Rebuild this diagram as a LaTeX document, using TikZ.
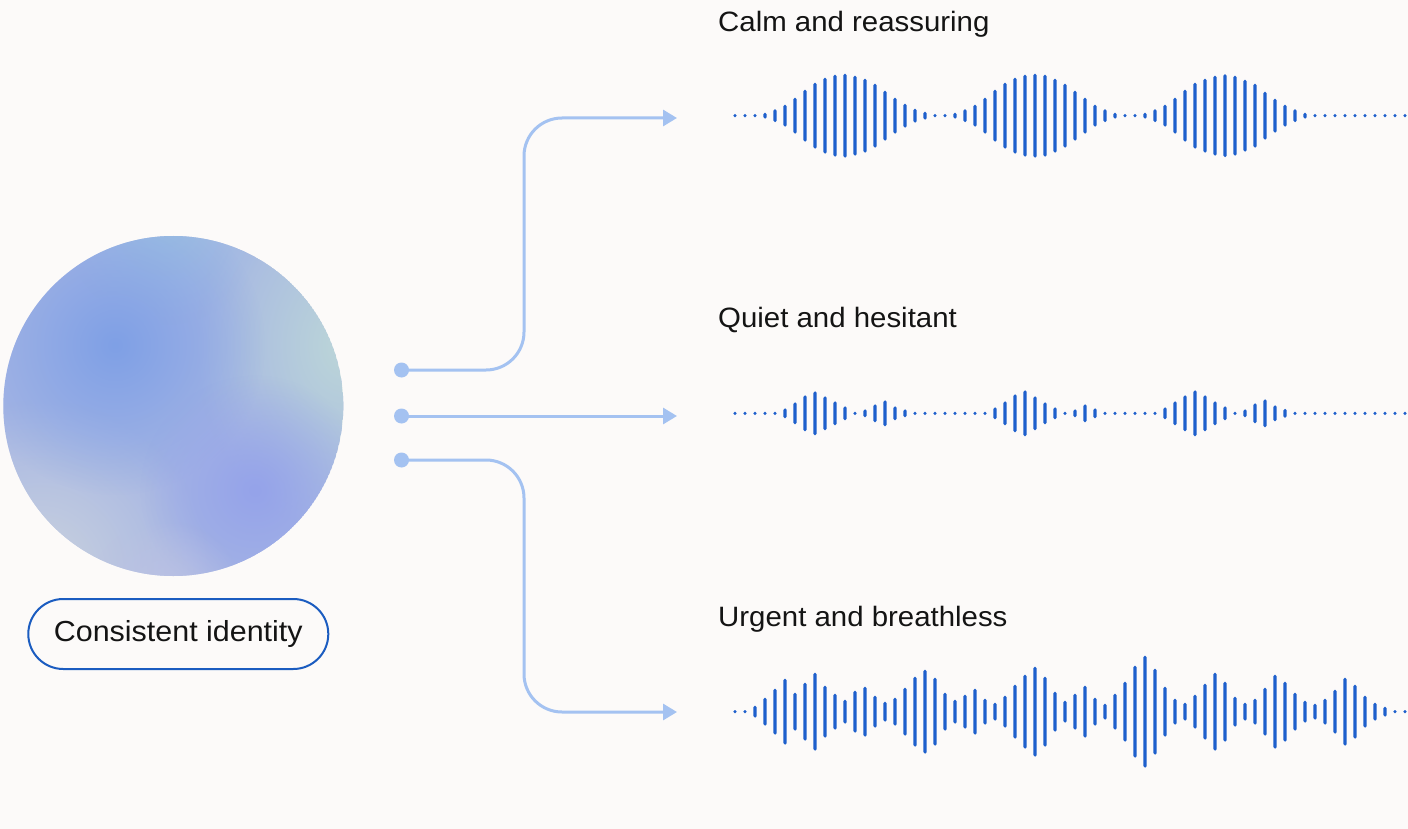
\documentclass[tikz,border=0pt]{standalone}
\usepackage{fontspec}
\setmainfont[FakeStretch=1.05]{Liberation Sans}
\usetikzlibrary{arrows.meta,fadings}
\definecolor{bgc}{HTML}{FCFAF9}
\definecolor{wavec}{HTML}{1E5FCC}
\definecolor{connc}{HTML}{A4C2F1}
\definecolor{pillc}{HTML}{1B5CC0}
\definecolor{txtc}{HTML}{141414}
\definecolor{cbase}{HTML}{A5B5E4}
\definecolor{cA}{HTML}{7FA0E6}
\definecolor{cB}{HTML}{95A3EA}
\definecolor{cC}{HTML}{BCD6D8}
\definecolor{cD}{HTML}{CAD2DE}
\definecolor{cE}{HTML}{9CC0E2}
\definecolor{cF}{HTML}{BDC2E4}
\tikzfading[name=blob, inner color=transparent!0, outer color=transparent!100]
\tikzset{
  wavebar/.style={fill=wavec, rounded corners=1.6pt},
  conn/.style={draw=connc, line width=3pt, rounded corners=38pt, -{Triangle[length=14pt,width=16pt]}},
  conndot/.style={circle, fill=connc, inner sep=0pt, minimum size=15pt},
  title/.style={anchor=base west, inner sep=0pt, text=txtc, font=\fontsize{28}{33}\selectfont},
  pill/.style={draw=pillc, line width=2pt, rounded corners=35pt, minimum width=300pt, minimum height=70pt, inner sep=0pt, text=txtc, font=\fontsize{29}{34}\selectfont}
}
\begin{document}
\begin{tikzpicture}[x=1pt,y=-1pt]
\useasboundingbox (0,0) rectangle (1408,829);
\fill[bgc] (0,0) rectangle (1408,829);
% gradient sphere
\begin{scope}
\clip (173.3,406) circle (170);
\fill[cbase] (173.3,406) circle (170);
\fill[cD, path fading=blob] (40,570) circle (170);
\fill[cC, path fading=blob] (345,345) ellipse (150 and 190);
\fill[cE, path fading=blob] (165,225) circle (100);
\fill[cA, path fading=blob] (115,345) circle (150);
\fill[cB, path fading=blob] (255,490) circle (115);
\fill[cF, path fading=blob] (165,600) circle (80);
\end{scope}
\node (sphere) at (173.3,406) [circle, minimum size=340pt, inner sep=0pt] {};
% label
\node[pill] (identity) at (178.3,634) {Consistent identity};
% connectors
\node[conndot] (d1) at (401.5,370) {};
\node[conndot] (d2) at (401.5,416) {};
\node[conndot] (d3) at (401.5,460) {};
\coordinate (t1) at (677,118);
\coordinate (t2) at (677,416);
\coordinate (t3) at (677,712);
\draw[conn] (d1.center) -- (524,370) -- (524,118) -- (t1);
\draw[conn] (d2.center) -- (t2);
\draw[conn] (d3.center) -- (524,460) -- (524,712) -- (t3);
% titles
\node[title] (calm) at (718,31.7) {Calm and reassuring};
\node[title] (quiet) at (718,327) {Quiet and hesitant};
\node[title] (urgent) at (718,626.7) {Urgent and breathless};
% waves
\foreach \h [count=\k from 0] in {0,0,0,3,6.5,11,18,26,33,38,41,42,40,37,32,25,18,12,7,4,0,0,3,6.5,11,18,26,33,38,41,42,41,37,32,25,18,11,6.5,3,0,0,3,6.5,11,18,26,33,37,40,41.5,40,36,32,24,17,11,6.5,3,0,0,0,0,0,0,0,0,0,0}{
  \pgfmathsetmacro\xx{735+10*\k}
  \pgfmathsetmacro\hh{max(\h,1.7)}
  \fill[wavebar] (\xx-1.65,115.7-\hh) rectangle (\xx+1.65,115.7+\hh);
}
\foreach \h [count=\k from 0] in {0,0,0,0,0,5,11,18,22,17,12,7,0,4,9,13,7,4,0,0,0,0,0,0,0,0,6,12,19,23,17,11,6,0,4,9,5,0,0,0,0,0,0,6,12,18,23,18,12,7,0,4,10,14,8,4.5,0,0,0,0,0,0,0,0,0,0,0,0}{
  \pgfmathsetmacro\xx{735+10*\k}
  \pgfmathsetmacro\hh{max(\h,1.7)}
  \fill[wavebar] (\xx-1.65,413.3-\hh) rectangle (\xx+1.65,413.3+\hh);
}
\foreach \h [count=\k from 0] in {0,0,6,14,23,33,19,29,39,26,18,12,21,25,16,10,14,24,35,42,34,19,12,17,23,13,9,16,27,37,45,35,20,11,18,26,14,8,18,30,46,56,43,25,13,9,17,28,39,30,15,9,13,24,37,30,19,11,8,13,22,34,27,16,9,5,0,0}{
  \pgfmathsetmacro\xx{735+10*\k}
  \pgfmathsetmacro\hh{max(\h,1.7)}
  \fill[wavebar] (\xx-1.65,711.7-\hh) rectangle (\xx+1.65,711.7+\hh);
}
\end{tikzpicture}
\end{document}
